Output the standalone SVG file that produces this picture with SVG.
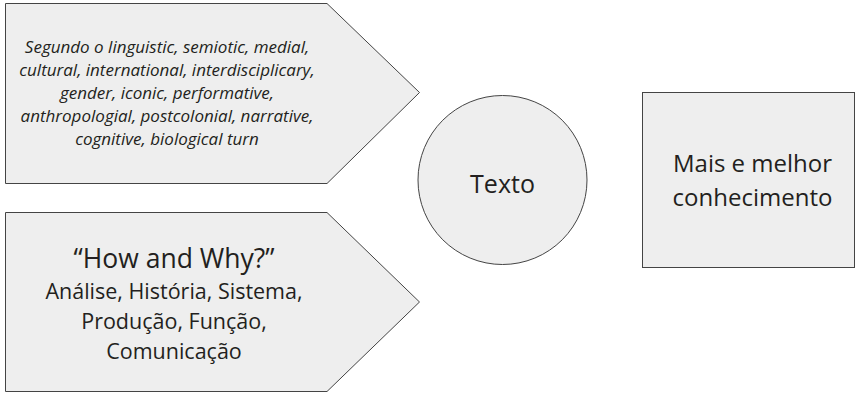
<svg xmlns="http://www.w3.org/2000/svg" width="855" height="394" viewBox="0 0 855 394">
<style>
.shape{fill:#eeeeee;stroke:#444444;stroke-width:1}
text{font-family:"Open Sans","Noto Sans","Liberation Sans",sans-serif;fill:#231f20;text-anchor:middle}
.it{font-style:italic;font-size:17px}
.b{font-size:21.5px}
.q{font-size:26.5px}
.t{font-size:25px}
.big{font-size:24px}
</style>
<rect width="855" height="394" fill="#ffffff"/>
<g id="node-turns">
<polygon class="shape" points="5.5,3.5 327,3.5 419.5,92.5 327,183.5 5.5,183.5"/>
<text class="it" x="167" y="53">Segundo o linguistic, semiotic, medial,</text>
<text class="it" x="167" y="76">cultural, international, interdisciplicary,</text>
<text class="it" x="167" y="99">gender, iconic, performative,</text>
<text class="it" x="167" y="122">anthropologial, postcolonial, narrative,</text>
<text class="it" x="167" y="145">cognitive, biological turn</text>
</g>
<g id="node-how">
<polygon class="shape" points="5.5,212.5 327,212.5 419.5,302 327,391.5 5.5,391.5"/>
<text class="q" x="174" y="268">“How and Why?”</text>
<text class="b" x="174" y="299">Análise, História, Sistema,</text>
<text class="b" x="174" y="329">Produção, Função,</text>
<text class="b" x="174" y="359">Comunicação</text>
</g>
<g id="node-texto">
<circle class="shape" cx="502.5" cy="180" r="84.5"/>
<text class="t" x="502.5" y="193">Texto</text>
</g>
<g id="node-conhecimento">
<rect class="shape" x="642.5" y="92.5" width="212" height="175"/>
<text class="big" x="752.5" y="172">Mais e melhor</text>
<text class="big" x="752.5" y="206">conhecimento</text>
</g>
<g id="connectors"></g>
</svg>
